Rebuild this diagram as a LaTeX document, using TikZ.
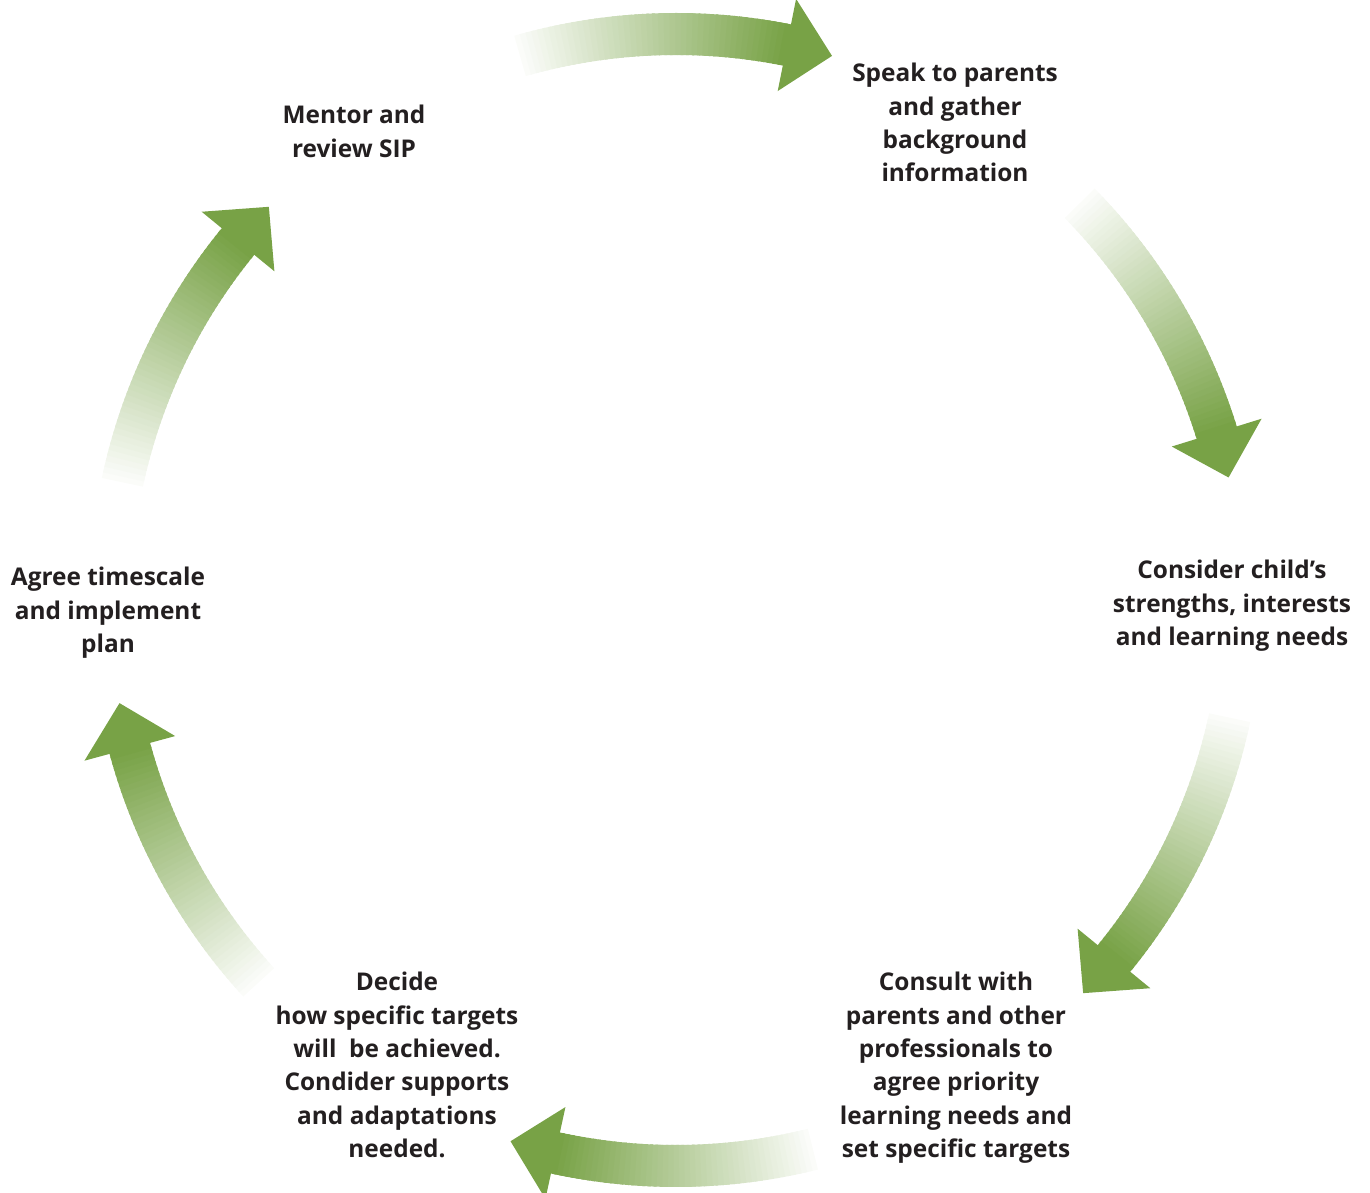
\documentclass[tikz,border=0pt]{standalone}
\usepackage{fontspec}
\setmainfont{Open Sans}
\definecolor{arrowgreen}{RGB}{120,162,70}
\definecolor{txt}{RGB}{35,31,32}
\newcommand\cyclearrow[2]{%
  \begin{scope}[shift={(C)}]
  \pgfmathsetmacro\hbase{#2+4.7*sign(#1-(#2))}%
  \foreach \i in {0,...,47}{%
    \pgfmathsetmacro\angA{#1+(\hbase-(#1))*\i/48}%
    \pgfmathsetmacro\angB{#1+(\hbase-(#1))*(\i+1.5)/48}%
    \pgfmathsetmacro\cpct{3+97*\i/47}%
    \fill[arrowgreen!\cpct!white] (\angA:545) arc[start angle=\angA, end angle=\angB, radius=545]
      -- (\angB:587) arc[start angle=\angB, end angle=\angA, radius=587] -- cycle;
  }
  \fill[arrowgreen] (\hbase:519) -- (#2:566) -- (\hbase:613) -- cycle;
  \end{scope}}
\begin{document}
\begin{tikzpicture}[x=1pt,y=1pt,
  lbl/.style={align=center, anchor=north, inner sep=0pt, text=txt,
    font=\fontsize{24.4}{33.4}\selectfont\bfseries,
    execute at begin node={\rule{0pt}{19pt}}}]
\useasboundingbox (0,0) rectangle (1370,1193);
\coordinate (C) at (676,593);
\cyclearrow{106}{74}
\cyclearrow{44.5}{12.5}
\cyclearrow{-12}{-44}
\cyclearrow{-76}{-107}
\cyclearrow{222.5}{190.5}
\cyclearrow{168}{136}
\node[lbl] (speak) at (955,1130) {Speak to parents\\and gather\\background\\information};
\node[lbl] (mentor) at (354,1088) {Mentor and\\review SIP};
\node[lbl] (consider) at (1232,633) {Consider child’s\\strengths, interests\\and learning needs};
\node[lbl] (consult) at (956,221) {Consult with\\parents and other\\professionals to\\agree priority\\learning needs and\\set specific targets};
\node[lbl] (decide) at (397,221) {Decide\\how specific targets\\will\ \ be achieved.\\Condider supports\\and adaptations\\needed.};
\node[lbl] (agree) at (108,626) {Agree timescale\\and implement\\plan};
\end{tikzpicture}
\end{document}
